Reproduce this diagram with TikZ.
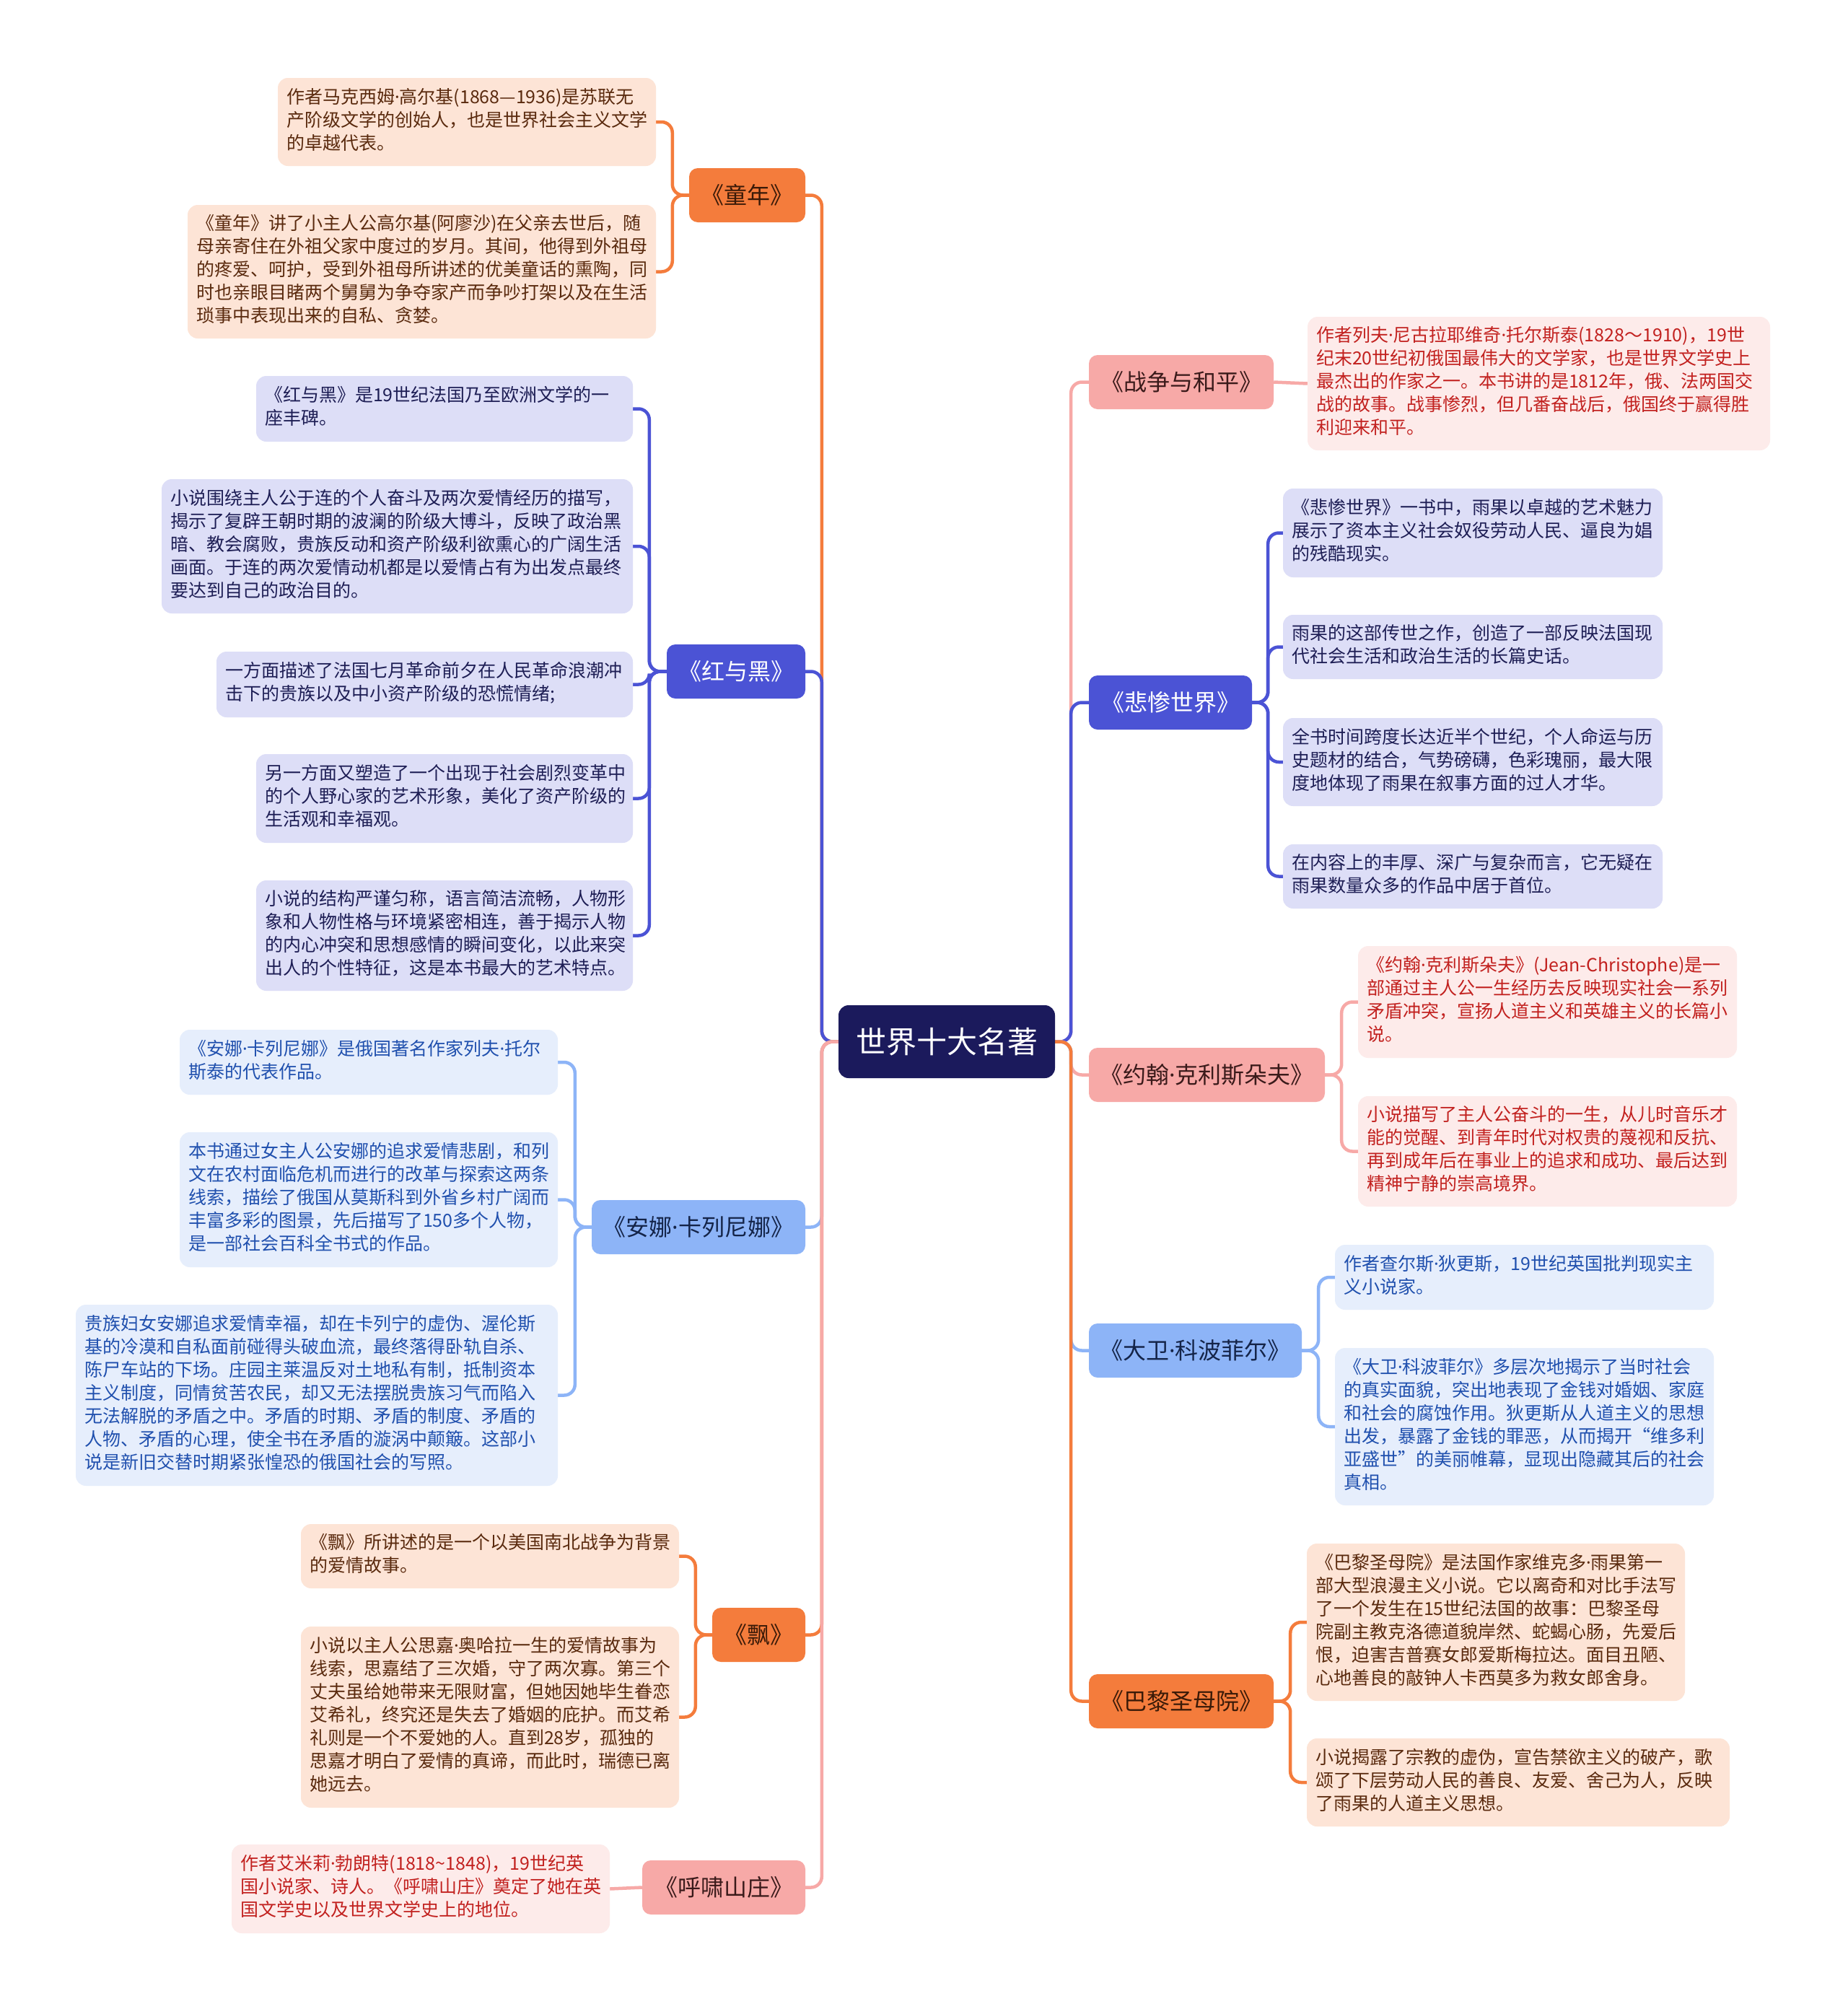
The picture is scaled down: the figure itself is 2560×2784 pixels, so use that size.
\documentclass[tikz,border=0pt]{standalone}
\usepackage{fontspec}
\setmainfont{Noto Sans CJK SC}
\newfontfamily\latinfont{Noto Sans}
\newcommand\md{{\latinfont ·}}
\usetikzlibrary{calc}
\pgfdeclarelayer{bg}
\pgfsetlayers{bg,main}
\definecolor{rootC}{HTML}{1B1A5C}
\definecolor{orgM}{HTML}{F47C3C}
\definecolor{orgMT}{HTML}{3A1A08}
\definecolor{orgL}{HTML}{FDE4D6}
\definecolor{orgLT}{HTML}{5A2A0E}
\definecolor{indM}{HTML}{4B53D5}
\definecolor{indL}{HTML}{DDDEF7}
\definecolor{indLT}{HTML}{1E1E55}
\definecolor{lbM}{HTML}{8DB4F7}
\definecolor{lbMT}{HTML}{142448}
\definecolor{lbL}{HTML}{E6EEFC}
\definecolor{lbLT}{HTML}{2050AE}
\definecolor{pkM}{HTML}{F7A9A7}
\definecolor{pkMT}{HTML}{3A1A1A}
\definecolor{pkL}{HTML}{FDEBEA}
\definecolor{pkLT}{HTML}{C2211F}
\tikzset{
  mbase/.style={rounded corners=12pt, inner sep=0pt, font=\fontsize{32}{38}\selectfont},
  mainO/.style={mbase, fill=orgM, text=orgMT},
  mainI/.style={mbase, fill=indM, text=white},
  mainB/.style={mbase, fill=lbM, text=lbMT},
  mainP/.style={mbase, fill=pkM, text=pkMT},
  rootbox/.style={rounded corners=14pt, inner sep=0pt, fill=rootC, text=white, font=\fontsize{42}{50}\selectfont},
  lbase/.style={rounded corners=14pt, align=left, inner xsep=12pt, inner ysep=0pt, font=\fontsize{25}{32}\selectfont},
  leafO/.style={lbase, fill=orgL, text=orgLT},
  leafI/.style={lbase, fill=indL, text=indLT},
  leafB/.style={lbase, fill=lbL, text=lbLT},
  leafP/.style={lbase, fill=pkL, text=pkLT},
  conn/.style={line width=4.5pt, rounded corners=15pt},
  cO/.style={conn, draw=orgM},
  cI/.style={conn, draw=indM},
  cB/.style={conn, draw=lbM},
  cP/.style={conn, draw=pkM},
}
\newcommand\leafnode[7]{%
  \pgfmathsetmacro\myLW{#5-#3-24}%
  \pgfmathsetmacro\myLH{#6-#4}%
  \node[#2, text width=\myLW pt, minimum height=\myLH pt] (#1) at ({(#3+#5)/2},{(#4+#6)/2+2}) {\begin{tabular}{@{}l@{}}#7\end{tabular}};%
}
\newcommand\mainnode[7]{%
  \pgfmathsetmacro\myLW{#5-#3}%
  \pgfmathsetmacro\myLH{#6-#4}%
  \node[#2, minimum width=\myLW pt, minimum height=\myLH pt] (#1) at ({(#3+#5)/2},{(#4+#6)/2}) {#7};%
}
\begin{document}
\begin{tikzpicture}[x=1pt,y=-1pt]
\useasboundingbox (0,0) rectangle (2560,2784);
\begin{pgfonlayer}{bg}
\fill[white] (0,0) rectangle (2560,2784);
\end{pgfonlayer}

% root
\mainnode{root}{rootbox}{1162}{1393}{1462}{1494}{世界十大名著}

% left main nodes
\mainnode{tn}{mainO}{955}{233}{1116}{308}{《童年》}
\mainnode{hh}{mainI}{924}{893}{1116}{968}{《红与黑》}
\mainnode{an}{mainB}{820}{1663}{1116}{1738}{《安娜\md 卡列尼娜》}
\mainnode{pi}{mainO}{987}{2228}{1116}{2303}{《飘》}
\mainnode{hx}{mainP}{890}{2578}{1116}{2653}{《呼啸山庄》}

% right main nodes
\mainnode{zz}{mainP}{1509}{492}{1765}{567}{《战争与和平》}
\mainnode{bc}{mainI}{1509}{936}{1735}{1011}{《悲惨世界》}
\mainnode{yh}{mainP}{1509}{1452}{1836}{1527}{《约翰\md 克利斯朵夫》}
\mainnode{dw}{mainB}{1509}{1834}{1804}{1909}{《大卫\md 科波菲尔》}
\mainnode{bl}{mainO}{1509}{2320}{1765}{2395}{《巴黎圣母院》}

% leaves: 童年
\leafnode{a1}{leafO}{385}{106}{909}{228}{作者马克西姆\md 高尔基(1868—1936)是苏联无\\产阶级文学的创始人，也是世界社会主义文学\\的卓越代表。}
\leafnode{a2}{leafO}{260}{282}{909}{467}{《童年》讲了小主人公高尔基(阿廖沙)在父亲去世后，随\\母亲寄住在外祖父家中度过的岁月。其间，他得到外祖母\\的疼爱、呵护，受到外祖母所讲述的优美童话的熏陶，同\\时也亲眼目睹两个舅舅为争夺家产而争吵打架以及在生活\\琐事中表现出来的自私、贪婪。}

% leaves: 红与黑
\leafnode{b1}{leafI}{355}{519}{877}{610}{《红与黑》是19世纪法国乃至欧洲文学的一\\座丰碑。}
\leafnode{b2}{leafI}{224}{662}{877}{848}{小说围绕主人公于连的个人奋斗及两次爱情经历的描写，\\揭示了复辟王朝时期的波澜的阶级大博斗，反映了政治黑\\暗、教会腐败，贵族反动和资产阶级利欲熏心的广阔生活\\画面。于连的两次爱情动机都是以爱情占有为出发点最终\\要达到自己的政治目的。}
\leafnode{b3}{leafI}{300}{901}{877}{992}{一方面描述了法国七月革命前夕在人民革命浪潮冲\\击下的贵族以及中小资产阶级的恐慌情绪;}
\leafnode{b4}{leafI}{355}{1043}{877}{1166}{另一方面又塑造了一个出现于社会剧烈变革中\\的个人野心家的艺术形象，美化了资产阶级的\\生活观和幸福观。}
\leafnode{b5}{leafI}{355}{1218}{877}{1371}{小说的结构严谨匀称，语言简洁流畅，人物形\\象和人物性格与环境紧密相连，善于揭示人物\\的内心冲突和思想感情的瞬间变化，以此来突\\出人的个性特征，这是本书最大的艺术特点。}

% leaves: 安娜
\leafnode{c1}{leafB}{249}{1425}{773}{1515}{《安娜\md 卡列尼娜》是俄国著名作家列夫\md 托尔\\斯泰的代表作品。}
\leafnode{c2}{leafB}{249}{1567}{773}{1754}{本书通过女主人公安娜的追求爱情悲剧，和列\\文在农村面临危机而进行的改革与探索这两条\\线索，描绘了俄国从莫斯科到外省乡村广阔而\\丰富多彩的图景，先后描写了150多个人物，\\是一部社会百科全书式的作品。}
\leafnode{c3}{leafB}{105}{1806}{773}{2057}{贵族妇女安娜追求爱情幸福，却在卡列宁的虚伪、渥伦斯\\基的冷漠和自私面前碰得头破血流，最终落得卧轨自杀、\\陈尸车站的下场。庄园主莱温反对土地私有制，抵制资本\\主义制度，同情贫苦农民，却又无法摆脱贵族习气而陷入\\无法解脱的矛盾之中。矛盾的时期、矛盾的制度、矛盾的\\人物、矛盾的心理，使全书在矛盾的漩涡中颠簸。这部小\\说是新旧交替时期紧张惶恐的俄国社会的写照。}

% leaves: 飘
\leafnode{d1}{leafO}{417}{2110}{941}{2199}{《飘》所讲述的是一个以美国南北战争为背景\\的爱情故事。}
\leafnode{d2}{leafO}{417}{2252}{941}{2503}{小说以主人公思嘉\md 奥哈拉一生的爱情故事为\\线索，思嘉结了三次婚，守了两次寡。第三个\\丈夫虽给她带来无限财富，但她因她毕生眷恋\\艾希礼，终究还是失去了婚姻的庇护。而艾希\\礼则是一个不爱她的人。直到28岁，孤独的\\思嘉才明白了爱情的真谛，而此时，瑞德已离\\她远去。}

% leaves: 呼啸山庄
\leafnode{e1}{leafP}{321}{2554}{845}{2677}{作者艾米莉\md 勃朗特(1818\textasciitilde 1848)，19世纪英\\国小说家、诗人。《呼啸山庄》奠定了她在英\\国文学史以及世界文学史上的地位。}

% leaves: 战争与和平
\leafnode{f1}{leafP}{1812}{437}{2453}{622}{作者列夫\md 尼古拉耶维奇\md 托尔斯泰(1828～1910)，19世\\纪末20世纪初俄国最伟大的文学家，也是世界文学史上\\最杰出的作家之一。本书讲的是1812年，俄、法两国交\\战的故事。战事惨烈，但几番奋战后，俄国终于赢得胜\\利迎来和平。}

% leaves: 悲惨世界
\leafnode{g1}{leafI}{1778}{675}{2304}{798}{《悲惨世界》一书中，雨果以卓越的艺术魅力\\展示了资本主义社会奴役劳动人民、逼良为娼\\的残酷现实。}
\leafnode{g2}{leafI}{1778}{850}{2304}{939}{雨果的这部传世之作，创造了一部反映法国现\\代社会生活和政治生活的长篇史话。}
\leafnode{g3}{leafI}{1778}{993}{2304}{1115}{全书时间跨度长达近半个世纪，个人命运与历\\史题材的结合，气势磅礴，色彩瑰丽，最大限\\度地体现了雨果在叙事方面的过人才华。}
\leafnode{g4}{leafI}{1778}{1168}{2304}{1257}{在内容上的丰厚、深广与复杂而言，它无疑在\\雨果数量众多的作品中居于首位。}

% leaves: 约翰
\leafnode{h1}{leafP}{1882}{1309}{2407}{1464}{《约翰\md 克利斯朵夫》(Jean-Christophe)是一\\部通过主人公一生经历去反映现实社会一系列\\矛盾冲突，宣扬人道主义和英雄主义的长篇小\\说。}
\leafnode{h2}{leafP}{1882}{1517}{2407}{1670}{小说描写了主人公奋斗的一生，从儿时音乐才\\能的觉醒、到青年时代对权贵的蔑视和反抗、\\再到成年后在事业上的追求和成功、最后达到\\精神宁静的崇高境界。}

% leaves: 大卫
\leafnode{i1}{leafB}{1850}{1723}{2375}{1813}{作者查尔斯\md 狄更斯，19世纪英国批判现实主\\义小说家。}
\leafnode{i2}{leafB}{1850}{1866}{2375}{2084}{《大卫\md 科波菲尔》多层次地揭示了当时社会\\的真实面貌，突出地表现了金钱对婚姻、家庭\\和社会的腐蚀作用。狄更斯从人道主义的思想\\出发，暴露了金钱的罪恶，从而揭开“维多利\\亚盛世”的美丽帷幕，显现出隐藏其后的社会\\真相。}

% leaves: 巴黎圣母院
\leafnode{j1}{leafO}{1811}{2137}{2335}{2355}{《巴黎圣母院》是法国作家维克多\md 雨果第一\\部大型浪漫主义小说。它以离奇和对比手法写\\了一个发生在15世纪法国的故事：巴黎圣母\\院副主教克洛德道貌岸然、蛇蝎心肠，先爱后\\恨，迫害吉普赛女郎爱斯梅拉达。面目丑陋、\\心地善良的敲钟人卡西莫多为救女郎舍身。}
\leafnode{j2}{leafO}{1811}{2407}{2397}{2529}{小说揭露了宗教的虚伪，宣告禁欲主义的破产，歌\\颂了下层劳动人民的善良、友爱、舍己为人，反映\\了雨果的人道主义思想。}

\begin{pgfonlayer}{bg}
% leaf connectors, left
\draw[cO] (tn.west) -- ++(-23,0) |- (a1.east);
\draw[cO] (tn.west) -- ++(-23,0) |- (a2.east);
\foreach \t in {b1,b2,b3,b4,b5} \draw[cI] (hh.west) -- ++(-24,0) |- (\t.east);
\foreach \t in {c1,c2,c3} \draw[cB] (an.west) -- ++(-23,0) |- (\t.east);
\draw[cO] (pi.west) -- ++(-23,0) |- (d1.east);
\draw[cO] (pi.west) -- ++(-23,0) |- (d2.east);
\draw[cP] (hx.west) -- (e1.east);
% leaf connectors, right
\draw[cP] (zz.east) -- (f1.west);
\foreach \t in {g1,g2,g3,g4} \draw[cI] (bc.east) -- ++(22,0) |- (\t.west);
\draw[cP] (yh.east) -- ++(23,0) |- (h1.west);
\draw[cP] (yh.east) -- ++(23,0) |- (h2.west);
\draw[cB] (dw.east) -- ++(23,0) |- (i1.west);
\draw[cB] (dw.east) -- ++(23,0) |- (i2.west);
\draw[cO] (bl.east) -- ++(23,0) |- (j1.west);
\draw[cO] (bl.east) -- ++(23,0) |- (j2.west);
% root connectors, left (later ones on top)
\draw[cO] (root.west) -- ++(-23,0) |- (tn.east);
\draw[cI] (root.west) -- ++(-23,0) |- (hh.east);
\draw[cB] (root.west) -- ++(-23,0) |- (an.east);
\draw[cO] (root.west) -- ++(-23,0) |- (pi.east);
\draw[cP] (root.west) -- ++(-23,0) |- (hx.east);
% root connectors, right
\draw[cP] (root.east) -- ++(22,0) |- (zz.west);
\draw[cI] (root.east) -- ++(22,0) |- (bc.west);
\draw[cP] (root.east) -- ++(22,0) |- (yh.west);
\draw[cB] (root.east) -- ++(22,0) |- (dw.west);
\draw[cO] (root.east) -- ++(22,0) |- (bl.west);
\end{pgfonlayer}
\end{tikzpicture}
\end{document}
